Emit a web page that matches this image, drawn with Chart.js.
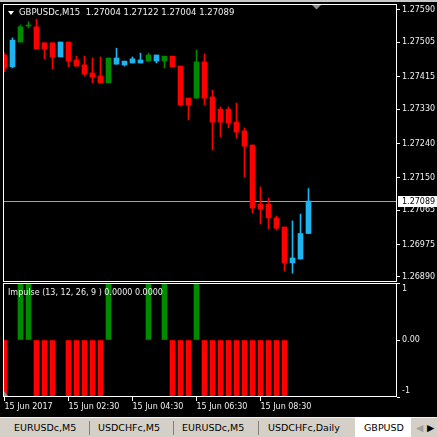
<!DOCTYPE html>
<html>
<head>
<meta charset="utf-8">
<script src="https://cdn.jsdelivr.net/npm/chart.js@4.4.1/dist/chart.umd.min.js"></script>
<style>
html, body { margin: 0; padding: 0; background: #000; width: 437px; height: 437px; overflow: hidden; position: relative; font-family: "DejaVu Sans", sans-serif; }
#topband { position: absolute; left: 0; top: 0; width: 437px; height: 2px; background: #c8c8c8; }
#main { position: absolute; left: 0; top: 0; }
#sub { position: absolute; left: 0; top: 283px; }
#tabs { position: absolute; left: 0; top: 417px; width: 437px; height: 20px; background: #d4d0c8; border-top: 1px solid #f4f4f4; }
#tabs span { position: absolute; top: 4px; font-size: 9.5px; color: #000; white-space: nowrap; }
#tabs .sep { position: absolute; top: 3px; width: 1px; height: 14px; background: #808080; }
#tabs .active { position: absolute; left: 355px; top: -1px; width: 56px; height: 21px; background: #fff; }
</style>
</head>
<body>
<div id="topband"></div>
<canvas id="main" width="437" height="283"></canvas>
<canvas id="sub" width="437" height="130"></canvas>
<div id="tabs">
  <span style="left:14px">EURUSDc,M5</span>
  <div class="sep" style="left:89px"></div>
  <span style="left:98px">USDCHFc,M5</span>
  <div class="sep" style="left:173px"></div>
  <span style="left:182px">EURUSDc,M5</span>
  <div class="sep" style="left:258px"></div>
  <span style="left:268px">USDCHFc,Daily</span>
  <div class="active"></div>
  <span style="left:364px">GBPUSD</span>
  <span style="left:416px;color:#a0a0a0">&#9664;</span>
  <span style="left:427px">&#9654;</span>
</div>
<script>
// GBPUSDc M15 candles (15 Jun 2017)
const opens  = [1.27472, 1.27441, 1.27506, 1.27548, 1.27546, 1.27504, 1.27504, 1.27467, 1.27506, 1.27459, 1.27446, 1.27425, 1.27417, 1.27399, 1.27464, 1.27446, 1.27451, 1.27451, 1.27456, 1.27472, 1.27456, 1.27469, 1.27443, 1.27359, 1.27359, 1.27454, 1.27362, 1.27330, 1.27330, 1.27296, 1.27273, 1.27236, 1.27081, 1.27081, 1.27045, 1.27021, 1.26927, 1.26937, 1.27004];
const highs  = [1.27477, 1.27517, 1.27551, 1.27559, 1.27566, 1.27504, 1.27504, 1.27506, 1.27506, 1.27469, 1.27469, 1.27464, 1.27467, 1.27464, 1.27490, 1.27456, 1.27467, 1.27477, 1.27477, 1.27472, 1.27469, 1.27469, 1.27443, 1.27359, 1.27485, 1.27475, 1.27380, 1.27336, 1.27336, 1.27346, 1.27281, 1.27236, 1.27126, 1.27097, 1.27050, 1.27021, 1.27037, 1.27055, 1.27122];
const lows   = [1.27428, 1.27438, 1.27506, 1.27543, 1.27488, 1.27462, 1.27435, 1.27467, 1.27441, 1.27443, 1.27417, 1.27399, 1.27399, 1.27399, 1.27448, 1.27443, 1.27451, 1.27451, 1.27456, 1.27451, 1.27438, 1.27441, 1.27338, 1.27302, 1.27359, 1.27341, 1.27223, 1.27257, 1.27281, 1.27254, 1.27152, 1.27058, 1.27029, 1.27016, 1.27013, 1.26906, 1.26900, 1.26937, 1.27004];
const closes = [1.27438, 1.27511, 1.27546, 1.27548, 1.27488, 1.27488, 1.27467, 1.27506, 1.27456, 1.27443, 1.27422, 1.27414, 1.27399, 1.27464, 1.27448, 1.27456, 1.27462, 1.27459, 1.27472, 1.27456, 1.27469, 1.27441, 1.27341, 1.27341, 1.27454, 1.27359, 1.27296, 1.27296, 1.27294, 1.27270, 1.27233, 1.27071, 1.27068, 1.27045, 1.27018, 1.26927, 1.26940, 1.27004, 1.27089];

// Impulse indicator: 1 = bullish, -1 = bearish, 0 = neutral
const impulse = [-1, 0, 1, 1, -1, -1, -1, 0, -1, -1, -1, -1, -1, 1, 0, 0, 0, 0, 1, 0, 1, -1, -1, -1, 1, -1, -1, -1, -1, -1, -1, -1, -1, -1, -1, -1, 0, 0, 0];

// axis labels
const priceTicks = [1.27590, 1.27505, 1.27415, 1.27330, 1.27240, 1.27150, 1.27065, 1.26975, 1.26890];
const timeTickIdx = [0, 8, 16, 24, 32];
const timeTickLabels = ['15 Jun 2017', '15 Jun 02:30', '15 Jun 04:30', '15 Jun 06:30', '15 Jun 08:30'];

const SYMBOL = 'GBPUSDc,M15';
const IND_TITLE = 'Impulse (13, 12, 26, 9 ) 0.0000 0.0000';

const RED = '#ff0000', GREEN = '#008a00', BLUE = '#1eb4f0';
const FG = '#f0f0f0';
const FONT = {family: 'DejaVu Sans', size: 8};

const colorOf = v => v > 0 ? GREEN : (v < 0 ? RED : BLUE);
const barColors = impulse.map(colorOf);
// histogram: nothing drawn for neutral bars
const histColors = impulse.map(v => v === 0 ? 'rgba(0,0,0,0)' : colorOf(v));
const idx = opens.map((_, i) => i);

// x range: 8 px per candle, candle 0 half hidden at left border
const X_MIN = -0.1875, X_MAX = 49.0625;
// y range of main window
const Y_MAX = 1.2760573, Y_MIN = 1.2687689;

function frame(chart) {
  const {ctx, chartArea: a} = chart;
  ctx.save();
  ctx.strokeStyle = '#ffffff';
  ctx.lineWidth = 1;
  ctx.strokeRect(a.left + 0.5, a.top + 0.5, a.right - a.left - 1, a.bottom - a.top - 1);
  ctx.restore();
}

const mainDecor = {
  id: 'mainDecor',
  beforeDatasetsDraw(chart) {
    const {ctx, chartArea: a, scales: {y}} = chart;
    const py = Math.round(y.getPixelForValue(closes[closes.length - 1])) + 0.5;
    ctx.save();
    ctx.strokeStyle = '#a4a4ac';
    ctx.lineWidth = 1;
    ctx.beginPath();
    ctx.moveTo(a.left, py);
    ctx.lineTo(a.right, py);
    ctx.stroke();
    ctx.restore();
  },
  afterDraw(chart) {
    const {ctx, chartArea: a, scales: {y}} = chart;
    frame(chart);
    const n = closes.length - 1;
    ctx.save();
    // title
    ctx.fillStyle = '#ffffff';
    ctx.beginPath();
    ctx.moveTo(8, 11); ctx.lineTo(14, 11); ctx.lineTo(11, 15); ctx.closePath();
    ctx.fill();
    ctx.font = '8.5px "DejaVu Sans"';
    ctx.fillStyle = FG;
    ctx.textBaseline = 'middle';
    const ohlc = [opens[n], highs[n], lows[n], closes[n]].map(v => v.toFixed(5)).join(' ');
    ctx.fillText(SYMBOL + '  ' + ohlc, 19, 13);
    // chart shift marker
    ctx.fillStyle = '#8c8c8c';
    ctx.beginPath();
    ctx.moveTo(312, 5); ctx.lineTo(321, 5); ctx.lineTo(316.5, 9.5); ctx.closePath();
    ctx.fill();
    // current price label
    const py = Math.round(y.getPixelForValue(closes[n]));
    ctx.fillStyle = '#ffffff';
    ctx.fillRect(a.right + 1, py - 5, 437 - a.right - 1, 11);
    ctx.fillStyle = '#000000';
    ctx.font = '8px "DejaVu Sans"';
    ctx.fillText(closes[n].toFixed(5), a.right + 5, py + 0.5);
    ctx.restore();
  }
};

const subDecor = {
  id: 'subDecor',
  afterDraw(chart) {
    const {ctx, chartArea: a} = chart;
    frame(chart);
    ctx.save();
    ctx.font = '8px "DejaVu Sans"';
    ctx.fillStyle = FG;
    ctx.textBaseline = 'middle';
    ctx.fillText(IND_TITLE, 8, 10);
    ctx.fillStyle = '#909090';
    ctx.beginPath();
    ctx.moveTo(a.left + 1, a.bottom - 6); ctx.lineTo(a.left + 5, a.bottom - 1); ctx.lineTo(a.left + 1, a.bottom - 1); ctx.closePath();
    ctx.fill();
    ctx.restore();
  }
};

new Chart(document.getElementById('main').getContext('2d'), {
  type: 'bar',
  data: {
    datasets: [
      {
        data: idx.map(i => ({x: i, y: [lows[i], highs[i]]})),
        backgroundColor: barColors,
        barThickness: 1,
        grouped: false,
        order: 2
      },
      {
        data: idx.map(i => ({x: i, y: [opens[i], closes[i]]})),
        backgroundColor: barColors,
        barThickness: 5,
        minBarLength: 1,
        grouped: false,
        order: 1
      }
    ]
  },
  options: {
    responsive: false,
    animation: false,
    layout: {padding: {left: 3, top: 4, right: 0, bottom: 1}},
    plugins: {legend: {display: false}, tooltip: {enabled: false}},
    scales: {
      x: {type: 'linear', display: false, offset: false, min: X_MIN, max: X_MAX, grid: {offset: false}},
      y: {
        position: 'right',
        min: Y_MIN,
        max: Y_MAX,
        afterBuildTicks: s => { s.ticks = priceTicks.map(v => ({value: v})); },
        afterFit: s => { s.width = 40; s.paddingTop = 0; s.paddingBottom = 0; },
        ticks: {color: FG, font: FONT, padding: 2, callback: v => Number(v).toFixed(5)},
        grid: {drawOnChartArea: false, color: '#ffffff', tickLength: 3},
        border: {display: false}
      }
    }
  },
  plugins: [mainDecor]
});

new Chart(document.getElementById('sub').getContext('2d'), {
  type: 'bar',
  data: {
    datasets: [{
      data: idx.map(i => ({x: i, y: impulse[i]})),
      backgroundColor: histColors,
      barThickness: 5
    }]
  },
  options: {
    responsive: false,
    animation: false,
    layout: {padding: {left: 3, top: 0, right: 0, bottom: 0}},
    plugins: {legend: {display: false}, tooltip: {enabled: false}},
    scales: {
      x: {
        type: 'linear',
        offset: false,
        min: X_MIN,
        max: X_MAX,
        afterBuildTicks: s => { s.ticks = timeTickIdx.map(v => ({value: v})); },
        afterFit: s => { s.height = 16; s.paddingLeft = 0; s.paddingRight = 0; },
        ticks: {color: FG, font: FONT, align: 'start', padding: 1, maxRotation: 0, autoSkip: false,
          callback: (v, k) => timeTickLabels[k]},
        grid: {drawOnChartArea: false, offset: false, color: '#ffffff', tickLength: 4},
        border: {display: false}
      },
      y: {
        position: 'right',
        min: -1,
        max: 1,
        afterBuildTicks: s => { s.ticks = [{value: 1}, {value: 0}, {value: -1}]; },
        afterFit: s => { s.width = 40; s.paddingTop = 0; s.paddingBottom = 0; },
        ticks: {color: FG, font: {family: 'DejaVu Sans', size: 8, lineHeight: 1.5}, padding: 2,
          callback: v => v === 1 ? ['', '1'] : (v === -1 ? ['-1', ''] : '0.00')},
        grid: {drawOnChartArea: false, color: '#ffffff', tickLength: 3},
        border: {display: false}
      }
    }
  },
  plugins: [subDecor]
});
</script>
</body>
</html>
